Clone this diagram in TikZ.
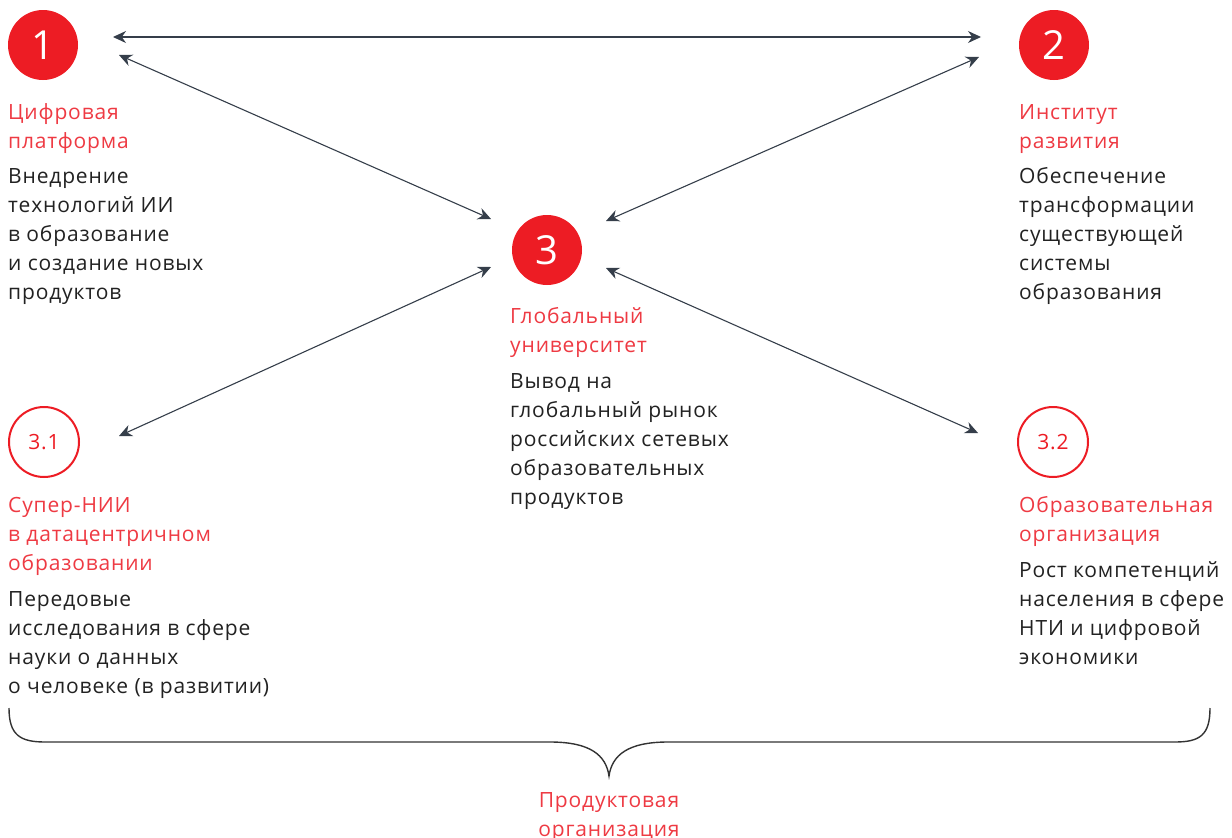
\documentclass[tikz,border=0pt]{standalone}
\usepackage{fontspec}
\setmainfont[LetterSpace=4]{Open Sans}
\usetikzlibrary{arrows.meta}
\definecolor{cred}{HTML}{ED1C24}
\definecolor{tred}{HTML}{EE3A43}
\definecolor{tblack}{HTML}{222222}
\definecolor{arr}{HTML}{353E4A}
\definecolor{brc}{HTML}{333333}
\tikzset{
  fullc/.style={circle, fill=cred, minimum size=70pt, inner sep=0pt, text=white, font=\fontsize{40}{40}\selectfont},
  ringc/.style={circle, draw=cred, line width=2pt, fill=white, minimum size=70pt, inner sep=0pt, text=cred, font=\fontsize{21}{21}\selectfont},
  ttl/.style={anchor=north west, inner sep=0pt, align=left, text=tred, font=\fontsize{21}{29}\selectfont},
  bod/.style={anchor=north west, inner sep=0pt, align=left, text=tblack, font=\fontsize{21}{29}\selectfont},
  link/.style={draw=arr, line width=1.1pt, {Stealth[length=13pt,width=12pt]}-{Stealth[length=13pt,width=12pt]}},
}
\begin{document}
\begin{tikzpicture}[x=1pt,y=-1pt]
\useasboundingbox (0,0) rectangle (1232,838);
% circles
\node[fullc] (c1) at (43,45) {1};
\node[fullc] (c2) at (1054,45) {2};
\node[fullc] (c3) at (547,250) {3};
\node[ringc] (c31) at (44,442) {3.1};
\node[ringc] (c32) at (1053,442) {3.2};
% anchor points for arrows
\coordinate (a1h) at (113,37);
\coordinate (a2h) at (981,37);
\coordinate (a1d) at (119,55);
\coordinate (a3ul) at (491,219);
\coordinate (a2d) at (979,57);
\coordinate (a3ur) at (606,221);
\coordinate (a31) at (119,436);
\coordinate (a3ll) at (491,267);
\coordinate (a32) at (978,433);
\coordinate (a3lr) at (606,268);
\draw[link] (a1h) -- (a2h);
\draw[link] (a1d) -- (a3ul);
\draw[link] (a2d) -- (a3ur);
\draw[link] (a31) -- (a3ll);
\draw[link] (a32) -- (a3lr);
% texts
\node[ttl] (t1) at (8,99) {\strut Цифровая\\платформа};
\node[bod] (b1) at (8,163) {\strut Внедрение\\технологий ИИ\\в образование\\и создание новых\\продуктов};
\node[ttl] (t2) at (1019,99) {\strut Институт\\развития};
\node[bod] (b2) at (1019,163) {\strut Обеспечение\\трансформации\\существующей\\системы\\образования};
\node[ttl] (t3) at (510,303) {\strut Глобальный\\университет};
\node[bod] (b3) at (510,368) {\strut Вывод на\\глобальный рынок\\российских сетевых\\образовательных\\продуктов};
\node[ttl] (t31) at (8,492) {\strut Супер-НИИ\\в датацентричном\\образовании};
\node[bod] (b31) at (8,586) {\strut Передовые\\исследования в сфере\\науки о данных\\о человеке (в развитии)};
\node[ttl] (t32) at (1019,492) {\strut Образовательная\\организация};
\node[bod] (b32) at (1019,557) {\strut Рост компетенций\\населения в сфере\\НТИ и цифровой\\экономики};
% brace
\draw[brc, line width=1.4pt] (9,708) .. controls (9,735) and (20,742) .. (45,742) -- (550,742) .. controls (590,742) and (606,755) .. (609,776) .. controls (612,755) and (628,742) .. (668,742) -- (1175,742) .. controls (1200,742) and (1210,735) .. (1210,708);
\node[ttl, anchor=north, align=center] (tb) at (609,787) {\strut Продуктовая\\организация};
\end{tikzpicture}
\end{document}
